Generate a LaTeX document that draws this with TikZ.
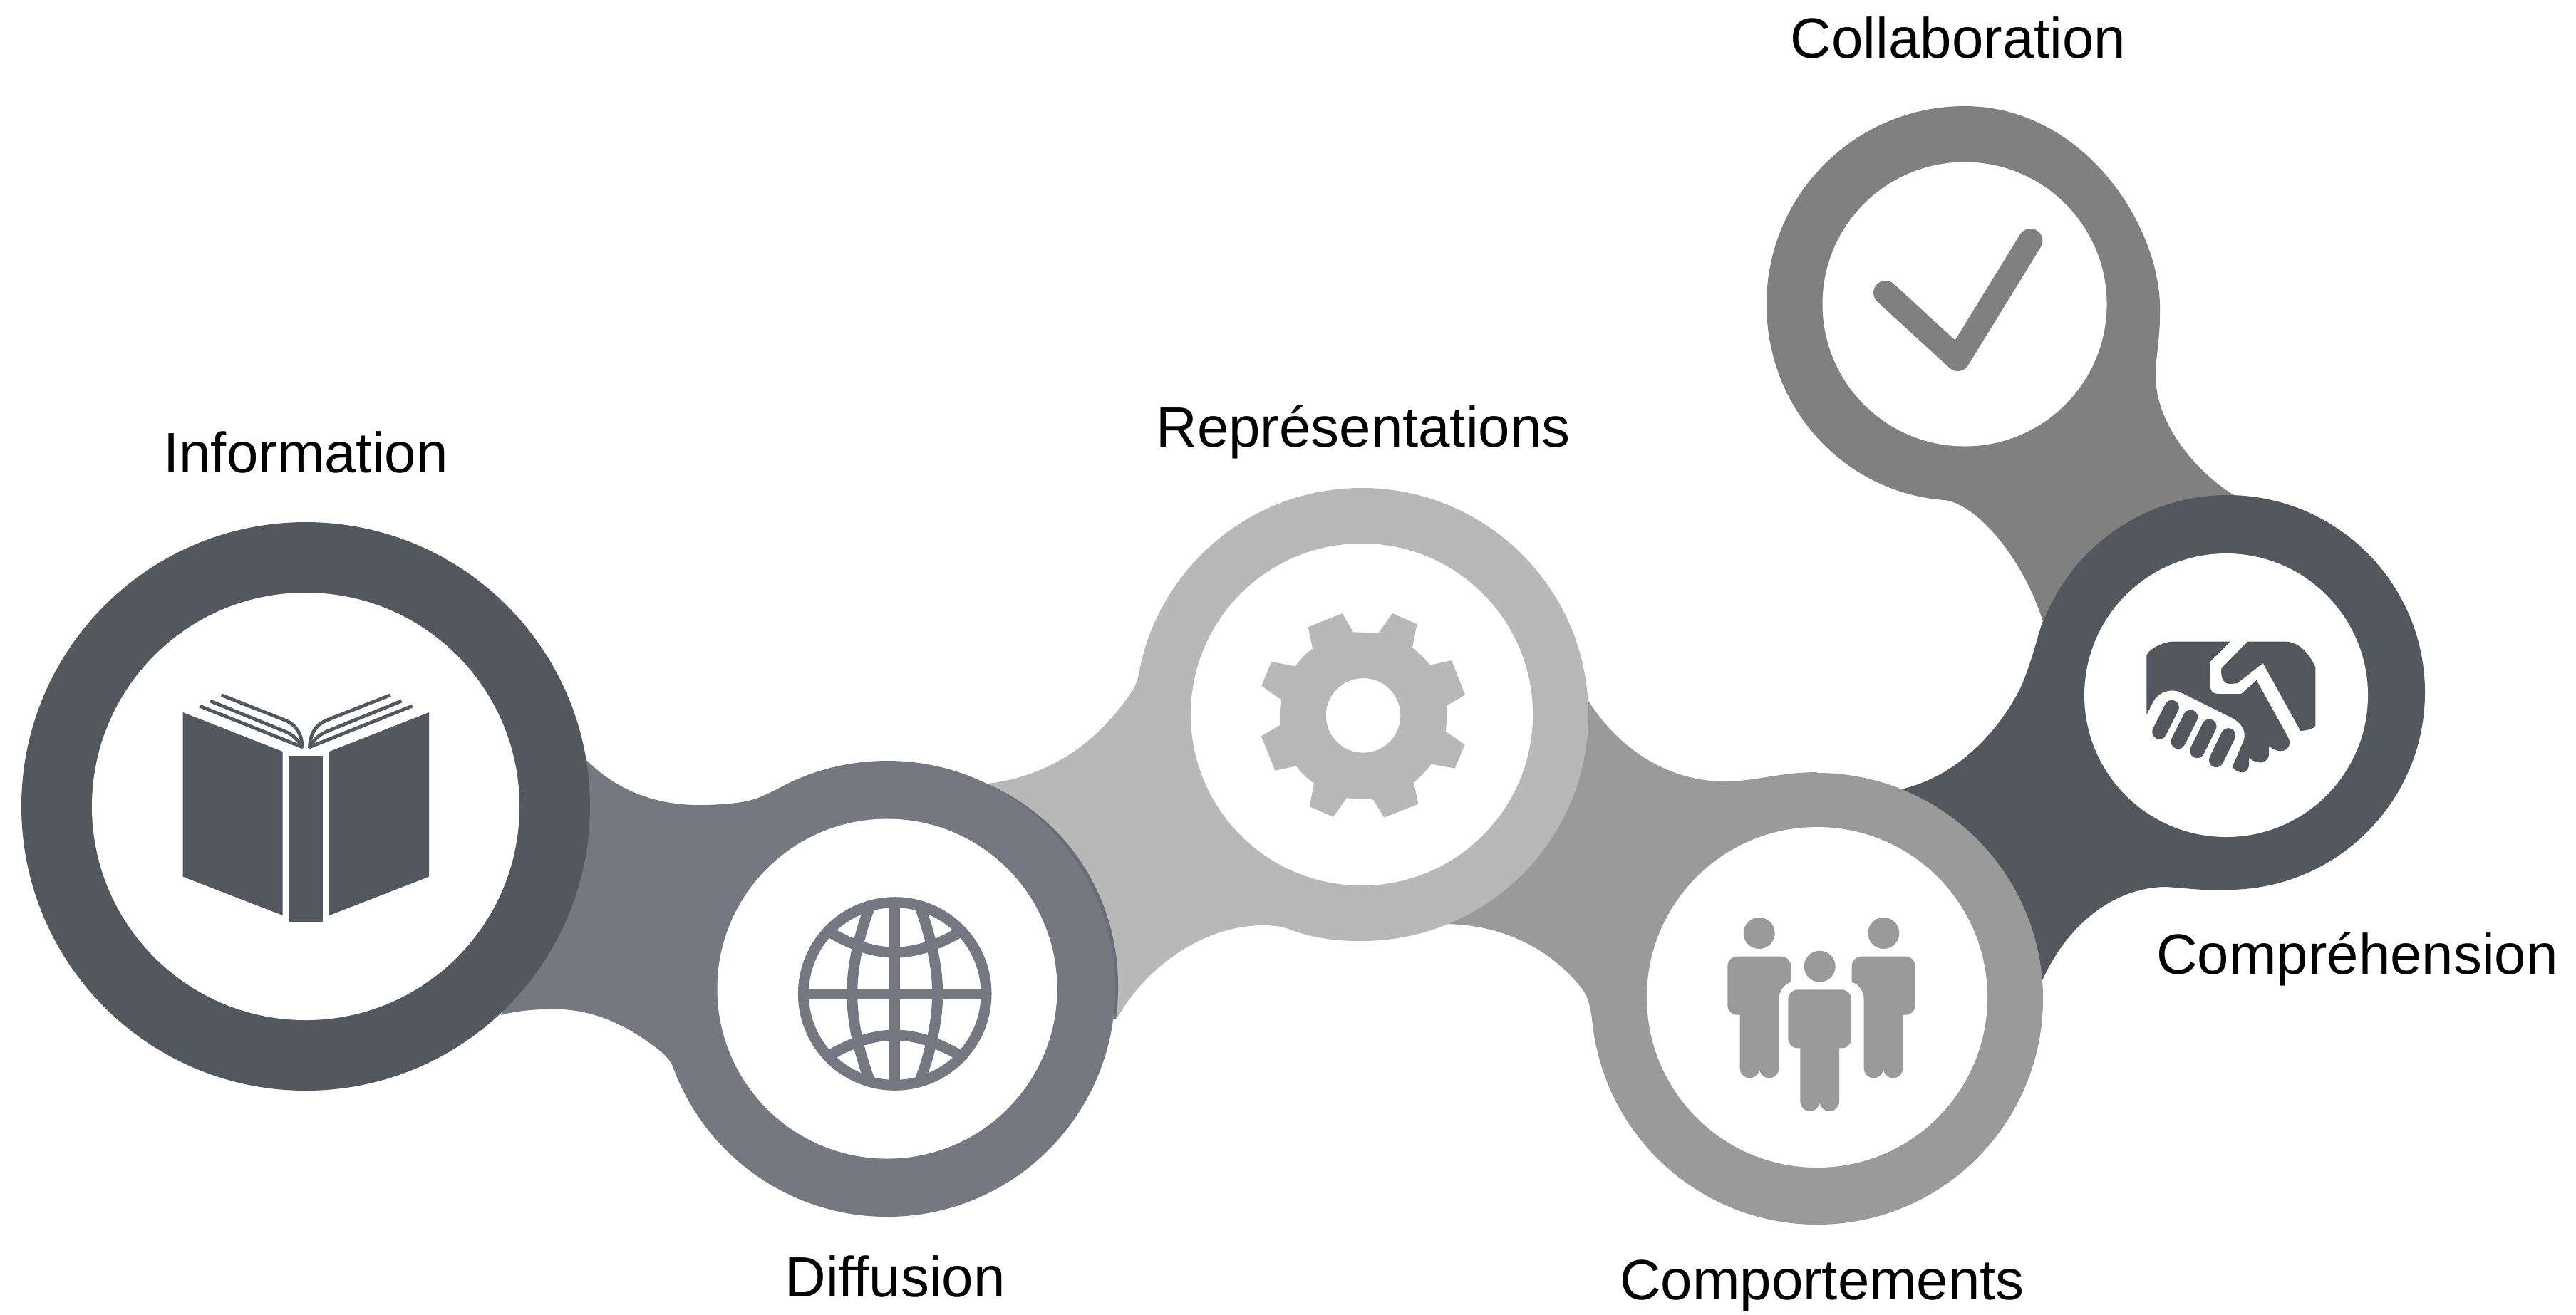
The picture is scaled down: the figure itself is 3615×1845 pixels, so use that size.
\documentclass[tikz,border=0pt]{standalone}
\usepackage{fontspec}
\setmainfont{Liberation Sans}
\definecolor{cinfo}{HTML}{53575E}
\definecolor{cdiff}{HTML}{757880}
\definecolor{cshade}{HTML}{6A6D75}
\definecolor{crepr}{HTML}{B8B8B8}
\definecolor{ccomp}{HTML}{9A9A9A}
\definecolor{ccoll}{HTML}{808080}
\tikzset{
  label text/.style={font=\fontsize{19.95}{24}\selectfont,text=black,inner sep=0pt,anchor=base},
  hole/.style={fill=white},
  iconline/.style={draw=#1,line width=3.75pt,fill=none},
  pagestroke/.style={draw=cinfo,line width=1.2pt,fill=none},
}
\newcommand{\bookpages}{%
  \draw[pagestroke] (280,991) -- (425,1049);
  \draw[pagestroke] (295,984) -- (398,1026) .. controls (411,1031) and (418,1038) .. (424,1049);
  \draw[pagestroke] (310.7,975.7) -- (400,1011) .. controls (415,1017) and (424,1030) .. (424,1050);
}
\newcommand{\personbody}{%
  \fill[ccomp] (266,150) circle (66);
  \fill[ccomp] (173,248) -- (360,248) .. controls (382,248) and (400,266) .. (400,288)
    -- (400,355) .. controls (370,365) and (349,395) .. (349,430)
    -- (349,719) .. controls (349,742) and (331,760) .. (308,760)
    .. controls (285,760) and (267,742) .. (267,719)
    .. controls (267,742) and (249,760) .. (226,760)
    .. controls (203,760) and (185,742) .. (185,719)
    -- (185,494) -- (173,494) .. controls (151,494) and (133,476) .. (133,454)
    -- (133,288) .. controls (133,266) and (151,248) .. (173,248) -- cycle;
}
\begin{document}
\begin{tikzpicture}[x=0.25pt,y=-0.25pt]
\useasboundingbox (0,0) rectangle (3615,1845);

% --- Collaboration
\fill[ccoll] (2757,149) .. controls (2603.5,149) and (2479,273.5) .. (2479,427)
  .. controls (2479,575) and (2590,692) .. (2729,702)
  .. controls (2775,708) and (2840,785) .. (2867,873)
  -- (3000,850) -- (3140,698)
  .. controls (3090,670) and (3025,600) .. (3025,528)
  .. controls (3025,500) and (3031,480) .. (3031,440)
  .. controls (3035,320) and (2925,149) .. (2757,149)
  -- cycle;
\fill[hole] (2757,427) circle (199.5);
\begin{scope}[shift={(2580,300)},scale=0.33333]
  \draw[ccoll,line width=8.5pt,line cap=round,line join=round] (198,333) -- (502,612) -- (808,114);
\end{scope}

% --- Comprehension
\fill[cinfo] (2667,1108) .. controls (2750,1090) and (2810,1020) .. (2838,960)
  .. controls (2850,930) and (2858,900) .. (2866,873)
  -- (3124,976) -- (3124,1249)
  .. controls (3100,1251) and (3070,1247) .. (3040,1245)
  .. controls (2970,1245) and (2900,1295) .. (2863,1383)
  -- cycle;
\fill[cinfo] (3126,972) circle (277);
\fill[hole] (3124,976) circle (199);
\begin{scope}[shift={(2980,870)},scale=0.33333]
  \fill[cinfo] (450,92) -- (205,92) .. controls (160,95) and (105,125) .. (97,150)
    -- (97,400) -- (125,345) .. controls (145,305) and (200,285) .. (245,308)
    -- (460,415) .. controls (495,435) and (520,470) .. (505,510)
    -- (458,620) .. controls (480,650) and (525,655) .. (528,610)
    -- (528,580) .. controls (545,600) and (600,620) .. (612,570)
    -- (612,532) .. controls (640,555) and (680,565) .. (697,530)
    .. controls (703,510) and (695,500) .. (690,490)
    -- (560,255) -- (495,312) -- (400,312) .. controls (375,310) and (368,305) .. (365,280)
    -- (362,180) -- cycle;
  \fill[cinfo] (522,92) -- (685,92) .. controls (745,95) and (785,150) .. (808,200)
    -- (808,445) .. controls (800,462) and (770,466) .. (745,468)
    -- (587,183) -- (478,268) -- (450,270) .. controls (420,270) and (408,245) .. (412,205)
    -- cycle;
  \draw[cinfo,line width=5.1pt,line cap=round] (203,369) -- (151,472);
  \draw[cinfo,line width=5.1pt,line cap=round] (282,410) -- (230,513);
  \draw[cinfo,line width=5.1pt,line cap=round] (361,449) -- (310,552);
  \draw[cinfo,line width=5.1pt,line cap=round] (441,487) -- (390,591);
\end{scope}

% --- Comportements
\fill[ccomp] (2228,982) .. controls (2270,1050) and (2340,1098) .. (2424,1097)
  .. controls (2465,1096) and (2500,1084) .. (2550,1084)
  -- (2287,1580) -- (2240,1469)
  .. controls (2233,1435) and (2235,1408) .. (2220,1388)
  .. controls (2175,1330) and (2105,1297) .. (2025,1297)
  -- cycle;
\fill[ccomp] (2550,1402) circle (317);
\fill[hole] (2550,1400) circle (239);
\begin{scope}[shift={(2380,1260)},scale=0.33333]
  \personbody
  \begin{scope}[shift={(1056,0)},xscale=-1]
    \personbody
  \end{scope}
  \fill[ccomp] (521,290) circle (66);
  \fill[ccomp] (428,388) -- (614,388) .. controls (636,388) and (654,406) .. (654,428)
    -- (654,594) .. controls (654,616) and (636,634) .. (614,634) -- (603,634)
    -- (603,859) .. controls (603,882) and (585,900) .. (562,900)
    .. controls (539,900) and (521,882) .. (521,859)
    .. controls (521,882) and (503,900) .. (480,900)
    .. controls (457,900) and (439,882) .. (439,859)
    -- (439,634) -- (428,634) .. controls (406,634) and (388,616) .. (388,594)
    -- (388,428) .. controls (388,406) and (406,388) .. (428,388) -- cycle;
\end{scope}

% --- Representations
\fill[crepr] (1386,1100) .. controls (1470,1090) and (1540,1045) .. (1590,968)
  .. controls (1602,948) and (1600,920) .. (1618,880)
  -- (1906,1321)
  .. controls (1870,1321) and (1835,1315) .. (1809,1304)
  .. controls (1797,1300) and (1785,1299) .. (1773,1299)
  .. controls (1690,1299) and (1610,1355) .. (1567,1430)
  -- cycle;
\fill[crepr] (1911,1003) circle (318);
\fill[hole] (1911,1003) circle (240);
\begin{scope}[shift={(1730,830)},scale=0.33333]
  \fill[crepr,even odd rule] (461,93) -- (507,172) -- (613,176) -- (672,93) -- (775,138) -- (756,238)
    .. controls (785,260) and (810,285) .. (831,311) -- (921,291) -- (978,436) -- (900,482)
    .. controls (902,520) and (900,555) .. (896,590) -- (977,646) -- (935,746)
    -- (836,728) .. controls (815,755) and (790,782) .. (762,805) -- (781,896) -- (637,953) -- (589,874)
    .. controls (552,878) and (515,875) .. (480,870) -- (423,950)
    -- (323,907) -- (342,808) .. controls (315,790) and (288,765) .. (267,736) -- (178,755) -- (120,610) -- (198,564)
    .. controls (197,525) and (198,490) .. (202,456)
    -- (121,398) -- (163,297) -- (263,316) .. controls (283,288) and (308,262) .. (336,241) -- (317,151) -- cycle
    (549,523) circle (157);
\end{scope}

% --- Diffusion
\fill[cshade] (1385,1100) .. controls (1514,1157) and (1585,1288) .. (1566,1430) -- (1245,1388) -- cycle;
\fill[cdiff] (821,1065) .. controls (870,1115) and (930,1132) .. (992,1130)
  .. controls (1020,1129) and (1045,1127) .. (1064,1120)
  .. controls (1100,1105) and (1160,1069) .. (1245,1069)
  -- (1116,1679)
  .. controls (1060,1650) and (985,1590) .. (952,1512)
  .. controls (943,1492) and (937,1483) .. (921,1471)
  .. controls (880,1440) and (830,1413) .. (765,1417)
  .. controls (745,1417) and (720,1420) .. (703,1425)
  -- cycle;
\fill[cdiff] (1245,1388) circle (320);
\fill[hole] (1245,1388) circle (238.5);
\begin{scope}
  \clip (1255.7,1395) circle (130);
  \draw[iconline=cdiff] (1255.7,1260) -- (1255.7,1530);
  \draw[iconline=cdiff] (1120,1395) -- (1390,1395);
  \draw[iconline=cdiff] (1221.7,1270) .. controls (1204,1315) and (1195.7,1360) .. (1195.7,1395)
    .. controls (1195.7,1430) and (1204,1475) .. (1221.7,1520);
  \draw[iconline=cdiff] (1289.7,1270) .. controls (1307,1315) and (1315.7,1360) .. (1315.7,1395)
    .. controls (1315.7,1430) and (1307,1475) .. (1289.7,1520);
  \draw[iconline=cdiff] (1160,1306) .. controls (1196,1328) and (1228,1337) .. (1255.7,1337)
    .. controls (1283,1337) and (1315,1328) .. (1351,1306);
  \draw[iconline=cdiff] (1160,1484) .. controls (1196,1462) and (1228,1453) .. (1255.7,1453)
    .. controls (1283,1453) and (1315,1462) .. (1351,1484);
\end{scope}
\draw[iconline=cdiff] (1255.7,1395) circle (128.3);

% --- Information
\fill[cinfo] (429,1132) circle (399);
\fill[hole] (429,1132) circle (300);
\fill[cinfo] (256.7,1000) -- (396.7,1055) -- (396.7,1285) -- (256.7,1230.7) -- cycle;
\fill[cinfo] (405.7,1060.7) rectangle (453,1294);
\fill[cinfo] (602,1000) -- (462,1055) -- (462,1285) -- (602,1230.7) -- cycle;
\bookpages
\begin{scope}[shift={(858.6,0)},xscale=-1]
  \bookpages
\end{scope}

% --- Labels
\node[label text] (linfo) at (429,663) {Information};
\node[label text] (ldiff) at (1256,1820) {Diffusion};
\node[label text] (lrepr) at (1913,627) {Représentations};
\node[label text] (lcomp) at (2557,1824) {Comportements};
\node[label text] (lcpr) at (3308,1367) {Compréhension};
\node[label text] (lcoll) at (2748,81) {Collaboration};
\end{tikzpicture}
\end{document}
